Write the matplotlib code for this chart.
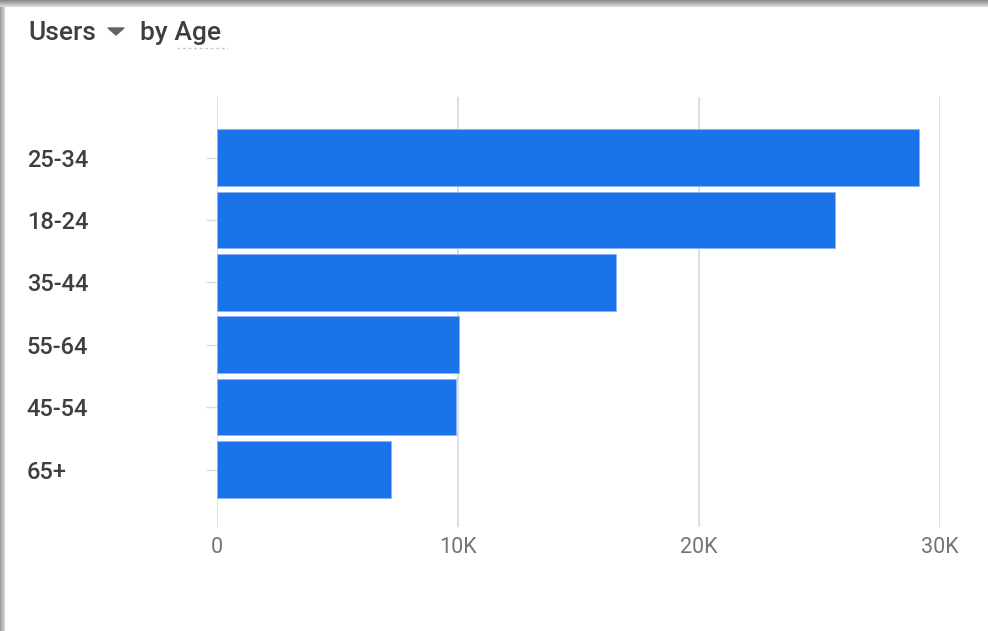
import matplotlib.pyplot as plt
import numpy as np
from matplotlib.patches import Polygon

age_groups = ["25-34", "18-24", "35-44", "55-64", "45-54", "65+"]
users = [29130, 25630, 16570, 10050, 9900, 7230]
x_ticks = [0, 10000, 20000, 30000]
x_tick_labels = ["0", "10K", "20K", "30K"]

plt.rcParams['font.family'] = ['Roboto', 'DejaVu Sans']

W, H = 988, 631
fig = plt.figure(figsize=(W / 100, H / 100), dpi=100)
fig.patch.set_facecolor('white')

# card shadow along the top and left edges
bg = fig.add_axes([0, 0, 1, 1], zorder=0)
img = np.ones((H, W, 3))
top = np.linspace(0.55, 0.85, 7)
for i, v in enumerate(top):
    img[i, :, :] = v
left = np.linspace(0.62, 0.82, 5)
for j, v in enumerate(left):
    img[7:, j, :] = np.minimum(img[7:, j, :], v)
bg.imshow(img, extent=[0, W, H, 0], aspect='auto', interpolation='bilinear')
bg.set_xlim(0, W)
bg.set_ylim(H, 0)
bg.axis('off')

# chart area in pixels
x0, x1 = 217, 940
y_top, y_bot = 97, 527
ax = fig.add_axes([x0 / W, 1 - y_bot / H, (x1 - x0) / W, (y_bot - y_top) / H], zorder=1)
ax.set_facecolor('none')

pos = np.arange(len(age_groups))
ax.barh(pos, users, height=0.907, color='#1a73e8', edgecolor='#8ab4f8',
        linewidth=0.6, zorder=3)

ax.set_xlim(0, 30000)
ax.set_ylim(5.92, -0.97)

ax.set_xticks(x_ticks)
ax.set_xticklabels(x_tick_labels)
ax.grid(axis='x', color='#dadce0', linewidth=1.3, zorder=0)
ax.tick_params(axis='x', length=0, pad=7, labelsize=15.5, labelcolor='#70757a')

ax.set_yticks(pos)
ax.set_yticklabels(age_groups)
ax.tick_params(axis='y', length=8, width=1, color='#dadce0', pad=129,
               labelsize=17, labelcolor='#3c4043')
for lbl in ax.get_yticklabels():
    lbl.set_horizontalalignment('left')
    lbl.set_fontweight('medium')

for s in ax.spines.values():
    s.set_visible(False)

# header: "Users ▾ by Age"
fig.text(28 / W, 1 - 40 / H, "Users", fontsize=19, color='#3c4043',
         fontweight='medium', va='baseline', ha='left')
tri = Polygon([[108 / W, 1 - 28 / H], [124 / W, 1 - 28 / H], [116 / W, 1 - 35 / H]],
              closed=True, transform=fig.transFigure, color='#5f6368')
fig.add_artist(tri)
fig.text(140 / W, 1 - 40 / H, "by Age", fontsize=19, color='#3c4043',
         fontweight='medium', va='baseline', ha='left')
fig.add_artist(plt.Line2D([177 / W, 228 / W], [1 - 48 / H, 1 - 48 / H],
                          transform=fig.transFigure, color='#c8c8c8',
                          linewidth=1, linestyle=(0, (2, 2))))

fig.savefig('out.png', dpi=100)
